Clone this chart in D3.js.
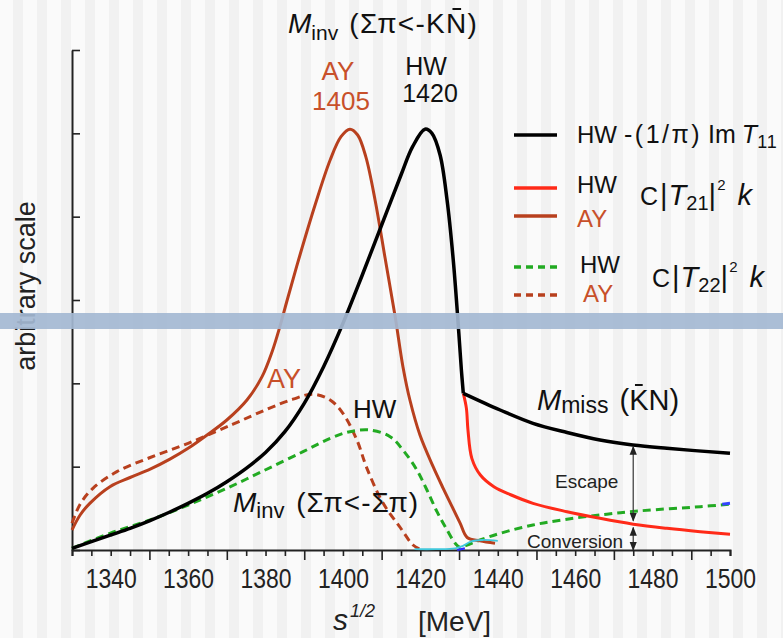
<!DOCTYPE html>
<html><head><meta charset="utf-8">
<script src="https://cdn.jsdelivr.net/npm/d3@7"></script>
<style>
body{margin:0;background:#f8f8f8}
svg{display:block}
text{font-family:"Liberation Sans",Arial,Helvetica,sans-serif}
</style>
</head><body>
<svg id="c" width="783" height="638"></svg>
<script>
// ---------------- data ----------------
const xDomain = [1330, 1500];
const yDomain = [0, 6];
const xTickLabels = [1340, 1360, 1380, 1400, 1420, 1440, 1460, 1480, 1500];
const xMinorTicks = d3.range(1330, 1501, 5);
const xMajorTicks = [1350, 1370, 1390, 1410, 1430, 1450, 1470, 1490];
const yTicks = [0, 1, 2, 3, 4, 5, 6];

// HW  -(1/pi) Im T11 below threshold
const hwImT11 = [[1330,0.02],[1335,0.1],[1340,0.18],[1345,0.26],[1350,0.35],[1355,0.45],[1360,0.56],
  [1365,0.68],[1370,0.82],[1375,0.98],[1380,1.17],[1385,1.42],[1390,1.76],[1395,2.2],[1400,2.72],
  [1405,3.3],[1410,3.9],[1415,4.5],[1418,4.84],[1421.2,5.05],[1423,5.0],[1425.1,4.74],[1426.9,4.2],
  [1428.5,3.48],[1429.7,2.76],[1430.6,2.16],[1431.1,1.88]];
// M_miss above threshold
const hwMissing = [[1431.1,1.88],[1440.6,1.68],[1449.1,1.52],[1457.9,1.41],[1466.4,1.32],
  [1474.9,1.26],[1483.7,1.22],[1500,1.16]];
// HW C|T21|^2 k
const hwT21 = [[1431.1,1.88],[1431.9,1.7],[1432.3,1.44],[1433.3,1.1],[1435.5,0.9],[1439,0.76],
  [1443.5,0.66],[1449.1,0.56],[1457.9,0.46],[1466.4,0.38],[1475,0.31],[1483.7,0.26],[1492.3,0.22],[1500,0.19]];
// AY C|T21|^2 k
const ayT21 = [[1330,0.24],[1332.1,0.42],[1334.6,0.56],[1339.8,0.76],[1345,0.87],[1350.2,0.97],
  [1355.3,1.09],[1360,1.22],[1364.9,1.38],[1370,1.56],[1375.2,1.8],[1379.1,2.08],[1381.7,2.38],
  [1383.7,2.68],[1385.6,3.0],[1388.9,3.54],[1392.8,4.14],[1396.7,4.68],[1399.5,4.96],[1401.8,5.05],
  [1403.8,4.98],[1405.9,4.72],[1408.3,4.2],[1410.9,3.5],[1413.5,2.8],[1415.5,2.2],[1417.3,1.8],
  [1419.9,1.38],[1423.3,1.0],[1425.9,0.74],[1428.2,0.52],[1430.3,0.32],[1432.1,0.15],[1435.4,0.11],[1439.3,0.08]];
// HW C|T22|^2 k
const hwT22 = [[1330,0.02],[1339.8,0.2],[1350.2,0.36],[1360,0.54],[1370,0.74],[1379.9,0.96],
  [1389.7,1.18],[1396.7,1.34],[1401.8,1.42],[1407,1.44],[1412.2,1.36],[1415.5,1.2],[1419.1,0.96],
  [1421.7,0.72],[1424.3,0.46],[1426.9,0.24],[1429,0.08],[1430.3,0.03],[1432.1,0.06],[1435.4,0.12],
  [1440.6,0.2],[1449.1,0.3],[1457.9,0.37],[1468.2,0.43],[1476.8,0.47],[1492.3,0.52],[1500,0.55]];
// AY C|T22|^2 k
const ayT22 = [[1330,0.32],[1332.1,0.55],[1335.4,0.74],[1341.6,0.94],[1350.2,1.11],[1360,1.28],
  [1371.6,1.51],[1380.4,1.69],[1387.1,1.81],[1392.3,1.87],[1396.7,1.8],[1400,1.64],[1403.6,1.32],
  [1406.2,0.98],[1410.4,0.56],[1414.8,0.27],[1418.1,0.06],[1419.9,0.01]];
// thin cyan / blue traces near threshold
const cyanTrace = [[1418.5,0.01],[1424,0.01],[1429,0.02],[1431,0.05],[1433,0.1],[1436,0.12],[1440,0.11]];
const blueTrace1 = [[1429.5,0.0],[1431.5,0.02]];
const blueTrace2 = [[1498,0.55],[1500,0.56]];
// Escape / Conversion arrows at sqrt(s)=1475
const arrowX = 1475;
const escapeRange = [1.24, 0.35];
const conversionRange = [0.27, 0.0];

// ---------------- drawing ----------------
const svg = d3.select("#c");
const W = 783, H = 638;
const x = d3.scaleLinear(xDomain, [72, 730]);
const y = d3.scaleLinear(yDomain, [550, 50]);

// background stripes
svg.append("rect").attr("width", W).attr("height", H).attr("fill", "#fafafa");
svg.append("g").selectAll("rect").data(d3.range(0, W, 24)).join("rect")
  .attr("x", d => d + 13).attr("y", 0).attr("width", 10).attr("height", H)
  .attr("fill", "#f1f1f1");

const AYC = "#b8401e", AYT = "#c8502a", HWR = "#ff2a18", GRN = "#22aa22";
const line = d3.line().x(d => x(d[0])).y(d => y(d[1])).curve(d3.curveCatmullRom.alpha(0.5));

// axes
const xAxis = d3.axisBottom(x).tickValues(xMinorTicks).tickSizeOuter(0)
  .tickSize(6).tickFormat(d => xTickLabels.includes(d) ? d : "");
const gx = svg.append("g").attr("transform", "translate(0,550)").call(xAxis);
gx.select(".domain").attr("stroke", "#222").attr("stroke-width", 2);
gx.selectAll(".tick line").attr("stroke", "#222").attr("stroke-width", 1.6)
  .attr("y2", d => xMajorTicks.includes(d) ? 10 : 6);
gx.selectAll(".tick text").attr("y", 38).attr("dy", null)
  .attr("font-size", 28).attr("fill", "#222")
  .attr("textLength", 51).attr("lengthAdjust", "spacingAndGlyphs");

const yAxis = d3.axisLeft(y).tickValues(yTicks).tickSizeInner(-8).tickSizeOuter(0).tickFormat("");
const gy = svg.append("g").attr("transform", "translate(72,0)").call(yAxis);
gy.select(".domain").attr("stroke", "#222").attr("stroke-width", 2);
gy.selectAll(".tick line").attr("stroke", "#222").attr("stroke-width", 1.6);

const plot = svg.append("g");
function path(data, color, w, dash) {
  plot.append("path").datum(data).attr("d", line).attr("fill", "none")
    .attr("stroke", color).attr("stroke-width", w)
    .attr("stroke-dasharray", dash || null).attr("stroke-linejoin", "round");
}
path(ayT22, AYC, 3, "8,5");
path(hwT22, GRN, 3, "8,5");
path(ayT21, AYC, 3);
path(cyanTrace, "#40c8dc", 1.8);
path(blueTrace1, "#2a2aff", 2.2);
path(hwT21, HWR, 3);
path(hwImT11, "#000", 3.5);
path(hwMissing, "#000", 3.5);
path(blueTrace2, "#3344ff", 3);

// rich text helper
function rich(xp, yp, parts, fill, size) {
  const t = svg.append("text").attr("x", xp).attr("y", yp).attr("fill", fill || "#111")
    .attr("font-size", size || 27);
  let prev = 0;
  parts.forEach(p => {
    const sh = p.shift || 0;
    t.append("tspan").attr("dy", sh - prev).attr("dx", p.dx || null).attr("font-size", p.size || null)
      .attr("font-style", p.it ? "italic" : null).attr("letter-spacing", p.ls || null).text(p.t);
    prev = sh;
  });
  return t;
}
function overbar(t, idx) {
  const b = t.node().getExtentOfChar(idx);
  svg.append("line").attr("x1", b.x + b.width * 0.3).attr("x2", b.x + b.width * 0.7)
    .attr("y1", b.y + 1).attr("y2", b.y + 1).attr("stroke", "#111").attr("stroke-width", 2);
}

// title
const tt = rich(288, 33, [{t: "M", it: 1}, {t: "inv", size: 21, shift: 7}, {t: " (Σπ<-KN)", dx: 2, ls: 1.3}], "#111", 28);
overbar(tt, 11);
// peak labels
svg.append("text").attr("x", 338).attr("y", 80).attr("text-anchor", "middle")
  .attr("font-size", 26).attr("fill", AYT).text("AY");
svg.append("text").attr("x", 341).attr("y", 110).attr("text-anchor", "middle")
  .attr("font-size", 26).attr("fill", AYT).text("1405");
svg.append("text").attr("x", 426).attr("y", 75).attr("text-anchor", "middle")
  .attr("font-size", 25).attr("fill", "#111").text("HW");
svg.append("text").attr("x", 430).attr("y", 102).attr("text-anchor", "middle")
  .attr("font-size", 25).attr("fill", "#111").text("1420");

// curve annotations
svg.append("text").attr("x", 267).attr("y", 388).attr("font-size", 27).attr("fill", AYT).text("AY");
svg.append("text").attr("x", 353).attr("y", 418).attr("font-size", 26).attr("fill", "#111").text("HW");
rich(233, 512, [{t: "M", it: 1}, {t: "inv", size: 22, shift: 6}, {t: " (Σπ<-Σπ)", dx: 3, ls: 1}], "#111", 28);
const mm = rich(537, 410, [{t: "M", it: 1}, {t: "miss", size: 23, shift: 3}, {t: " (KN)", dx: 3}], "#111", 29);
overbar(mm, 7);

// escape / conversion
svg.append("text").attr("x", 555).attr("y", 488).attr("font-size", 19).attr("fill", "#222").text("Escape");
svg.append("text").attr("x", 527).attr("y", 548).attr("font-size", 19).attr("fill", "#222").text("Conversion");
const defs = svg.append("defs");
defs.append("marker").attr("id", "ah").attr("viewBox", "0 0 10 10").attr("refX", 9).attr("refY", 5)
  .attr("markerWidth", 7).attr("markerHeight", 7).attr("orient", "auto-start-reverse")
  .append("path").attr("d", "M0,1 L10,5 L0,9 z").attr("fill", "#222");
[escapeRange, conversionRange].forEach(r => {
  svg.append("line").attr("x1", x(arrowX)).attr("x2", x(arrowX))
    .attr("y1", y(r[0])).attr("y2", y(r[1])).attr("stroke", "#444").attr("stroke-width", 1.3)
    .attr("marker-start", "url(#ah)").attr("marker-end", "url(#ah)");
});

// legend
const lg = svg.append("g");
function lgLine(y0, color, dash, x2) {
  lg.append("line").attr("x1", 514).attr("x2", x2 || 557).attr("y1", y0).attr("y2", y0)
    .attr("stroke", color).attr("stroke-width", 3.5).attr("stroke-dasharray", dash || null);
}
lgLine(135, "#000");
lgLine(188, HWR);
lgLine(216, AYC);
lgLine(267, GRN, "7,5", 562);
lgLine(295, AYC, "7,5", 562);
const LS = 24;
lg.append("text").attr("x", 577).attr("y", 143).attr("font-size", LS).attr("fill", "#111").text("HW");
lg.append("text").attr("x", 577).attr("y", 193).attr("font-size", LS).attr("fill", "#111").text("HW");
lg.append("text").attr("x", 577).attr("y", 227).attr("font-size", LS).attr("fill", AYT).text("AY");
lg.append("text").attr("x", 580).attr("y", 273).attr("font-size", LS).attr("fill", "#111").text("HW");
lg.append("text").attr("x", 583).attr("y", 302).attr("font-size", LS).attr("fill", AYT).text("AY");
rich(624, 143, [{t: "-(1/π)", ls: 2.5}, {t: "Im", dx: 6}, {t: "T", it: 1, dx: 6}, {t: "11", size: 18, shift: 5, ls: 1}], "#111", 25);
function cT(xp, yp, sub) {
  rich(xp, yp, [{t: "C", size: 25}, {t: "|", dx: 2}, {t: "T", it: 1, dx: 1}, {t: sub, size: 20, shift: 5},
    {t: "|", shift: 0}, {t: "2", size: 15, shift: -15, dx: 1}, {t: "k", it: 1, shift: 0, dx: 12}], "#111", 29);
}
cT(640, 205, "21");
cT(652, 287, "22");

// axis titles
svg.append("text").attr("transform", "translate(35,286) rotate(-90)").attr("text-anchor", "middle")
  .attr("font-size", 27).attr("fill", "#222").text("arbitrary scale");
rich(333, 630, [{t: "s", it: 1, size: 30}, {t: "1/2", it: 1, size: 18, shift: -13, dx: 2}], "#222", 28);
svg.append("text").attr("x", 418).attr("y", 631).attr("font-size", 28).attr("fill", "#222").text("[MeV]");

// horizontal blue band on top
svg.append("rect").attr("x", 0).attr("y", 313).attr("width", W).attr("height", 16)
  .attr("fill", "#a4b9d2").attr("opacity", 0.92);
</script>
</body></html>
